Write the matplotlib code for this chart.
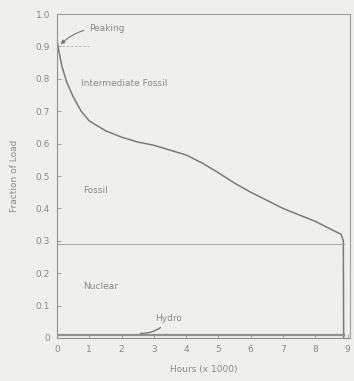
import matplotlib
matplotlib.use('Agg')
import matplotlib.pyplot as plt
import numpy as np

# load duration curve (hours in thousands, fraction of peak load)
hours = [0, 0.05, 0.15, 0.3, 0.5, 0.75, 1.0, 1.5, 2.0, 2.5, 3.0, 3.5, 4.0,
         4.5, 5.0, 5.5, 6.0, 6.5, 7.0, 7.5, 8.0, 8.5, 8.8, 8.87, 8.88]
load = [0.92, 0.89, 0.84, 0.79, 0.745, 0.70, 0.67, 0.64, 0.62, 0.605, 0.595,
        0.58, 0.565, 0.54, 0.51, 0.478, 0.45, 0.425, 0.40, 0.38, 0.36,
        0.335, 0.32, 0.30, 0.0]

nuclear_level = 0.29
peaking_level = 0.90
hydro_level = 0.01
regions = ['Peaking', 'Intermediate Fossil', 'Fossil', 'Nuclear', 'Hydro']

bg = '#efefed'
ink = '#8a8a8a'
line_c = '#7a7a7a'

fig = plt.figure(figsize=(3.54, 3.81), dpi=100, facecolor=bg)
ax = fig.add_axes([0.161, 0.113, 0.828, 0.85], facecolor=bg)

ax.plot(hours, load, color=line_c, lw=1.1)
ax.plot([0, hours[-1]], [nuclear_level, nuclear_level], color='#a8a8a8', lw=0.8)
ax.plot([0, hours[-1]], [hydro_level, hydro_level], color='#909090', lw=1.6)
ax.plot([0.15, 1.0], [peaking_level, peaking_level], color='#b0b0b0', lw=0.6, ls=(0, (3, 2)))

fs = 6.5
ax.annotate(regions[0], xy=(0.05, 0.9), xytext=(1.0, 0.955), color=ink, fontsize=fs,
            va='center', arrowprops=dict(arrowstyle='-|>', color='#777777', lw=0.8,
                                         connectionstyle='arc3,rad=0.25', mutation_scale=6))
ax.text(0.75, 0.785, regions[1], color=ink, fontsize=fs, va='center')
ax.text(0.8, 0.455, regions[2], color=ink, fontsize=fs, va='center')
ax.text(0.8, 0.16, regions[3], color=ink, fontsize=fs, va='center')
ax.annotate(regions[4], xy=(2.5, 0.015), xytext=(3.05, 0.06), color=ink, fontsize=fs,
            va='center', arrowprops=dict(arrowstyle='-', color='#777777', lw=1.0,
                                         connectionstyle='arc3,rad=-0.3'))

ax.set_xlim(0, 9.08)
ax.set_ylim(0, 1.0)
ax.set_xticks(range(10))
ax.set_yticks(np.arange(0, 1.01, 0.1))
ax.set_yticklabels(['0'] + [f'{v:.1f}' for v in np.arange(0.1, 1.01, 0.1)])
ax.tick_params(direction='in', length=3, width=0.7, colors='#a0a0a0',
               labelcolor=ink, labelsize=fs, pad=5)
for s in ax.spines.values():
    s.set_color('#a0a0a0')
    s.set_linewidth(0.8)
ax.spines['left'].set_color('#909090')
ax.spines['bottom'].set_color('#909090')

ax.set_xlabel('Hours (x 1000)', color=ink, fontsize=fs, labelpad=8)
ax.set_ylabel('Fraction of Load', color=ink, fontsize=fs, labelpad=12)

fig.savefig('out.png', dpi=100, facecolor=bg)
